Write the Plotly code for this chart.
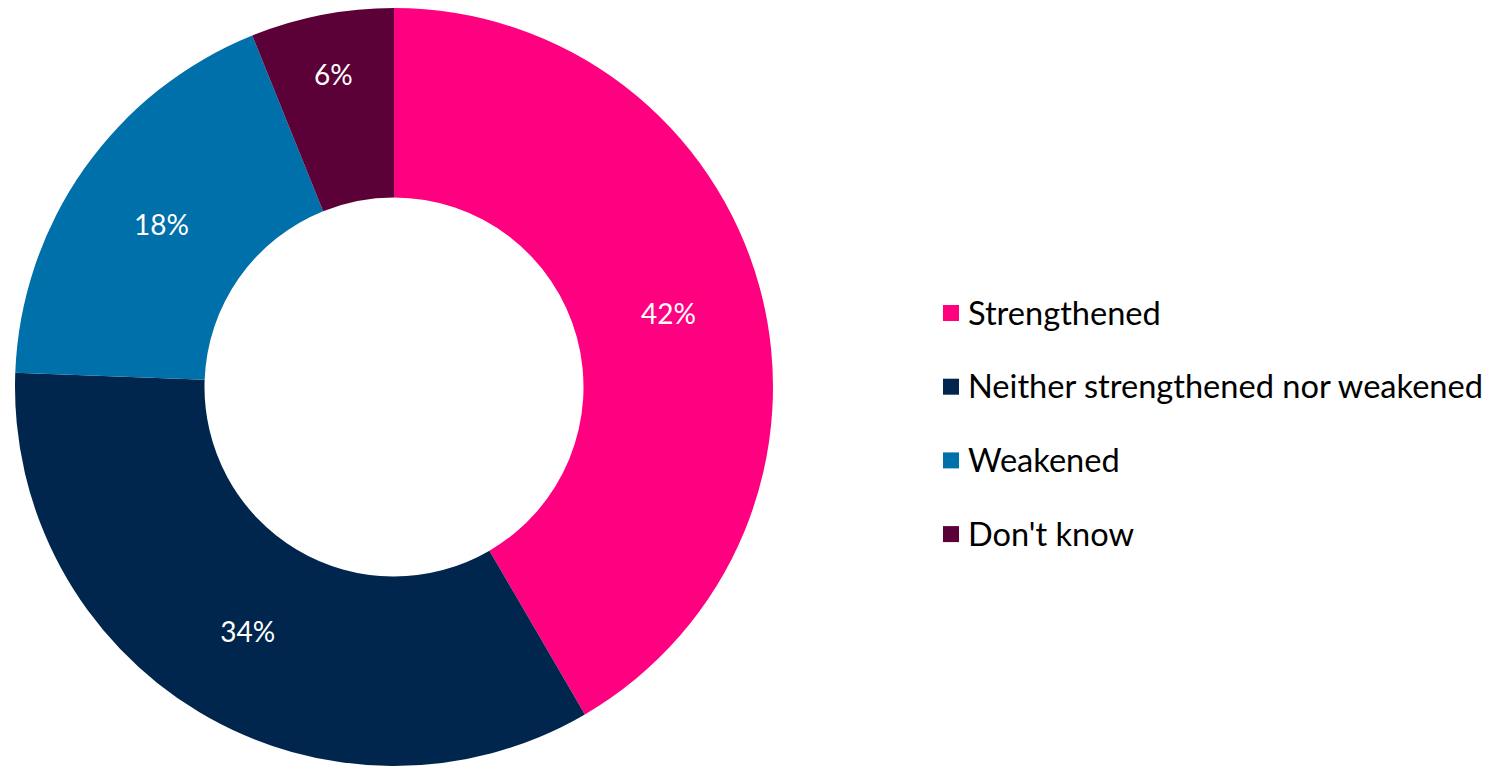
import plotly.graph_objects as go

labels = ["Strengthened", "Neither strengthened nor weakened", "Weakened", "Don't know"]
values = [41.6, 34.0, 18.3, 6.1]
colors = ["#FF0080", "#00264D", "#0070AA", "#5C0038"]

W, H = 1494, 767
FONT = "Lato"

fig = go.Figure()
fig.add_trace(go.Pie(
    labels=labels,
    values=values,
    hole=0.5,
    sort=False,
    direction="clockwise",
    rotation=0,
    marker=dict(colors=colors, line=dict(width=0)),
    textinfo="percent",
    texttemplate="%{percent:.0%}",
    textposition="inside",
    insidetextorientation="horizontal",
    textfont=dict(family=FONT, size=28, color="white"),
    domain=dict(x=[14 / W, 774 / W], y=[1 / H, 759 / H]),
    hoverinfo="skip",
    showlegend=False,
))

# legend drawn from the label/colour lists
leg_x_sq = 943
leg_x_txt = 966
leg_y0 = 313
leg_dy = 73.7
shapes = []
annotations = []
for i, (lab, col) in enumerate(zip(labels, colors)):
    yc = leg_y0 + i * leg_dy
    shapes.append(dict(
        type="rect", xref="paper", yref="paper",
        x0=leg_x_sq / W, x1=(leg_x_sq + 16) / W,
        y0=1 - (yc - 8) / H, y1=1 - (yc + 8) / H,
        fillcolor=col, line=dict(width=0),
    ))
    annotations.append(dict(
        text=lab, xref="paper", yref="paper",
        x=leg_x_txt / W, y=1 - (yc - 1) / H,
        xanchor="left", yanchor="middle", showarrow=False,
        font=dict(family=FONT, size=32.6, color="#000000"),
    ))

fig.update_layout(
    width=W, height=H,
    margin=dict(l=0, r=0, t=0, b=0),
    paper_bgcolor="white",
    plot_bgcolor="white",
    shapes=shapes,
    annotations=annotations,
    showlegend=False,
)

fig.write_html("out.html", config={"displayModeBar": False},
               post_script="document.body.style.margin='0';")
